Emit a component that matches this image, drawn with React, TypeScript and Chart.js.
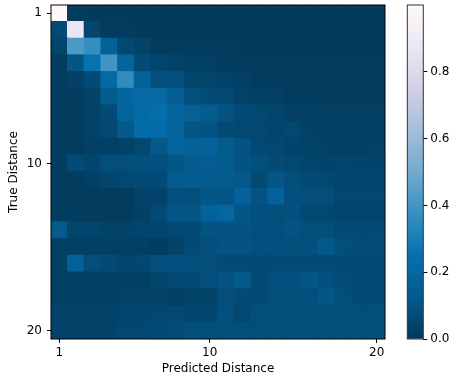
import { useEffect, useRef } from "react";
import { Chart, registerables } from "chart.js";

Chart.register(...registerables);

// ---- data ----
const predictedDistances = [1, 2, 3, 4, 5, 6, 7, 8, 9, 10, 11, 12, 13, 14, 15, 16, 17, 18, 19, 20];
const trueDistances = [1, 2, 3, 4, 5, 6, 7, 8, 9, 10, 11, 12, 13, 14, 15, 16, 17, 18, 19, 20];
const xTickValues = [1, 10, 20];
const yTickValues = [1, 10, 20];
const colorbarTicks = [0, 0.2, 0.4, 0.6, 0.8];

// rows: true distance 1..20, columns: predicted distance 1..20
const matrix: number[][] = [
  [1.0, 0.02, 0.01, 0.01, 0.01, 0.01, 0.01, 0.01, 0.01, 0.01, 0.01, 0.01, 0.01, 0.01, 0.01, 0.01, 0.01, 0.01, 0.01, 0.01],
  [0.07, 0.87, 0.05, 0.02, 0.02, 0.01, 0.01, 0.01, 0.01, 0.01, 0.01, 0.01, 0.01, 0.01, 0.01, 0.01, 0.01, 0.01, 0.01, 0.01],
  [0.05, 0.42, 0.37, 0.17, 0.06, 0.04, 0.02, 0.02, 0.02, 0.02, 0.02, 0.01, 0.01, 0.01, 0.01, 0.01, 0.01, 0.01, 0.01, 0.01],
  [0.02, 0.11, 0.26, 0.40, 0.18, 0.07, 0.05, 0.04, 0.03, 0.03, 0.02, 0.02, 0.02, 0.02, 0.02, 0.02, 0.02, 0.02, 0.02, 0.02],
  [0.02, 0.03, 0.07, 0.21, 0.36, 0.17, 0.09, 0.09, 0.05, 0.05, 0.04, 0.03, 0.02, 0.02, 0.02, 0.02, 0.02, 0.02, 0.02, 0.02],
  [0.02, 0.02, 0.04, 0.13, 0.19, 0.21, 0.21, 0.15, 0.08, 0.07, 0.06, 0.04, 0.03, 0.03, 0.02, 0.02, 0.02, 0.02, 0.02, 0.02],
  [0.02, 0.02, 0.04, 0.07, 0.18, 0.21, 0.24, 0.19, 0.16, 0.13, 0.10, 0.07, 0.06, 0.05, 0.03, 0.03, 0.025, 0.025, 0.025, 0.025],
  [0.02, 0.02, 0.04, 0.06, 0.12, 0.23, 0.22, 0.18, 0.11, 0.10, 0.07, 0.06, 0.06, 0.05, 0.06, 0.035, 0.03, 0.03, 0.03, 0.03],
  [0.02, 0.02, 0.03, 0.03, 0.04, 0.06, 0.12, 0.19, 0.17, 0.17, 0.13, 0.10, 0.06, 0.06, 0.045, 0.04, 0.035, 0.03, 0.03, 0.035],
  [0.02, 0.07, 0.05, 0.08, 0.08, 0.09, 0.09, 0.11, 0.13, 0.15, 0.13, 0.10, 0.09, 0.065, 0.06, 0.05, 0.045, 0.05, 0.045, 0.045],
  [0.02, 0.02, 0.03, 0.05, 0.06, 0.07, 0.07, 0.13, 0.14, 0.13, 0.13, 0.12, 0.065, 0.11, 0.08, 0.07, 0.06, 0.05, 0.05, 0.05],
  [0.02, 0.02, 0.02, 0.02, 0.02, 0.04, 0.04, 0.08, 0.08, 0.11, 0.11, 0.17, 0.10, 0.17, 0.09, 0.08, 0.08, 0.06, 0.06, 0.06],
  [0.02, 0.02, 0.02, 0.02, 0.02, 0.03, 0.07, 0.11, 0.11, 0.17, 0.20, 0.11, 0.09, 0.08, 0.09, 0.06, 0.06, 0.05, 0.05, 0.05],
  [0.13, 0.05, 0.05, 0.04, 0.04, 0.05, 0.05, 0.06, 0.07, 0.10, 0.10, 0.10, 0.09, 0.08, 0.10, 0.085, 0.085, 0.065, 0.065, 0.065],
  [0.03, 0.03, 0.03, 0.03, 0.03, 0.03, 0.02, 0.04, 0.07, 0.09, 0.10, 0.10, 0.09, 0.09, 0.085, 0.09, 0.12, 0.085, 0.075, 0.075],
  [0.03, 0.16, 0.08, 0.07, 0.05, 0.06, 0.08, 0.09, 0.08, 0.08, 0.07, 0.07, 0.065, 0.065, 0.065, 0.065, 0.065, 0.065, 0.065, 0.065],
  [0.03, 0.03, 0.03, 0.03, 0.03, 0.03, 0.05, 0.06, 0.07, 0.08, 0.10, 0.12, 0.07, 0.09, 0.09, 0.11, 0.09, 0.075, 0.065, 0.065],
  [0.03, 0.03, 0.03, 0.03, 0.04, 0.04, 0.04, 0.03, 0.04, 0.045, 0.08, 0.065, 0.065, 0.085, 0.085, 0.085, 0.11, 0.08, 0.065, 0.065],
  [0.04, 0.04, 0.04, 0.04, 0.05, 0.05, 0.06, 0.06, 0.05, 0.05, 0.09, 0.06, 0.085, 0.08, 0.08, 0.08, 0.085, 0.08, 0.08, 0.08],
  [0.04, 0.04, 0.04, 0.04, 0.06, 0.06, 0.07, 0.075, 0.085, 0.08, 0.085, 0.085, 0.08, 0.08, 0.085, 0.085, 0.08, 0.08, 0.08, 0.08],
];

// PuBu_r colormap stops (low -> high)
const PUBU_R = ["#023858", "#045a8d", "#0570b0", "#3690c0", "#74a9cf", "#a6bddb", "#d0d1e6", "#ece7f2", "#fff7fb"];

const FONT = "'DejaVu Sans', sans-serif";
const VMIN = 0;
const VMAX = Math.max(...matrix.map((r) => Math.max(...r)));

function hexToRgb(h: string): number[] {
  return [parseInt(h.slice(1, 3), 16), parseInt(h.slice(3, 5), 16), parseInt(h.slice(5, 7), 16)];
}
const STOPS = PUBU_R.map(hexToRgb);

function cmap(v: number): string {
  let t = (v - VMIN) / (VMAX - VMIN);
  t = Math.max(0, Math.min(1, t));
  const pos = t * (STOPS.length - 1);
  const i = Math.min(STOPS.length - 2, Math.floor(pos));
  const f = pos - i;
  const a = STOPS[i];
  const b = STOPS[i + 1];
  const c = a.map((x, k) => Math.round(x + (b[k] - x) * f));
  return `rgb(${c[0]},${c[1]},${c[2]})`;
}

const framePlugin = {
  id: "frame",
  afterDatasetsDraw(chart: any, _args: any, opts: any) {
    const { ctx, chartArea: a } = chart;
    ctx.save();
    ctx.strokeStyle = opts.color || "#000";
    ctx.lineWidth = opts.width || 1;
    ctx.strokeRect(a.left, a.top, a.right - a.left, a.bottom - a.top);
    ctx.restore();
  },
};

export default function App() {
  const mainRef = useRef<HTMLCanvasElement>(null);
  const cbRef = useRef<HTMLCanvasElement>(null);

  useEffect(() => {
    const cells: { x: number; y: [number, number] }[] = [];
    const colors: string[] = [];
    trueDistances.forEach((t, i) => {
      predictedDistances.forEach((p, j) => {
        cells.push({ x: p, y: [t - 0.5, t + 0.5] });
        colors.push(cmap(matrix[i][j]));
      });
    });

    const tickFont = { family: FONT, size: 12 };

    const main = new Chart(mainRef.current!, {
      type: "bar",
      data: {
        datasets: [
          {
            data: cells as any,
            backgroundColor: colors,
            borderWidth: 0,
            grouped: false,
            barPercentage: 1,
            categoryPercentage: 1,
            inflateAmount: 0.7,
          } as any,
        ],
      },
      options: {
        responsive: false,
        animation: false,
        events: [],
        layout: { padding: { top: 5, right: 68, left: 0, bottom: 0 } },
        plugins: {
          legend: { display: false },
          tooltip: { enabled: false },
          frame: { color: "#000", width: 1 },
        } as any,
        scales: {
          x: {
            type: "linear",
            min: 0.5,
            max: 20.5,
            offset: false,
            afterBuildTicks: (s: any) => {
              s.ticks = xTickValues.map((v) => ({ value: v }));
            },
            afterFit: (s: any) => {
              s.height = 37;
              s.paddingLeft = 0;
              s.paddingRight = 0;
            },
            ticks: { font: tickFont, color: "#000", padding: 2.3, maxRotation: 0, autoSkip: false },
            grid: { offset: false, drawOnChartArea: false, drawTicks: true, tickLength: 4, color: "#000", lineWidth: 1 },
            border: { display: false },
            title: {
              display: true,
              text: "Predicted Distance",
              font: tickFont,
              color: "#000",
              padding: { top: 0, bottom: 0 },
            },
          },
          y: {
            type: "linear",
            reverse: true,
            min: 0.5,
            max: 20.5,
            offset: false,
            afterBuildTicks: (s: any) => {
              s.ticks = yTickValues.map((v) => ({ value: v }));
            },
            afterFit: (s: any) => {
              s.width = 51;
              s.paddingTop = 0;
              s.paddingBottom = 0;
            },
            ticks: { font: tickFont, color: "#000", padding: 5, autoSkip: false },
            grid: { offset: false, drawOnChartArea: false, drawTicks: true, tickLength: 4, color: "#000", lineWidth: 1 },
            border: { display: false },
            title: {
              display: true,
              text: "True Distance",
              font: tickFont,
              color: "#000",
              padding: { top: 6.8, bottom: 0 },
            },
          },
        },
      },
      plugins: [framePlugin],
    });

    const cb = new Chart(cbRef.current!, {
      type: "bar",
      data: {
        labels: [""],
        datasets: [
          {
            data: [[VMIN, VMAX]] as any,
            backgroundColor: (ctx: any) => {
              const chart = ctx.chart;
              const ys = chart.scales.y;
              if (!ys || !chart.chartArea) return PUBU_R[0];
              const y0 = ys.getPixelForValue(VMIN);
              const y1 = ys.getPixelForValue(VMAX);
              const g = chart.ctx.createLinearGradient(0, y0, 0, y1);
              PUBU_R.forEach((c, k) => g.addColorStop(k / (PUBU_R.length - 1), c));
              return g;
            },
            borderWidth: 0,
            barPercentage: 1,
            categoryPercentage: 1,
          } as any,
        ],
      },
      options: {
        responsive: false,
        animation: false,
        events: [],
        layout: { padding: { top: 5, left: 17.3, right: 0, bottom: 37 } },
        plugins: {
          legend: { display: false },
          tooltip: { enabled: false },
          frame: { color: "#333", width: 1 },
        } as any,
        scales: {
          x: { type: "category", display: false },
          y: {
            type: "linear",
            position: "right",
            min: VMIN,
            max: VMAX,
            afterBuildTicks: (s: any) => {
              s.ticks = colorbarTicks.map((v) => ({ value: v }));
            },
            afterFit: (s: any) => {
              s.width = 29.7;
              s.paddingTop = 0;
              s.paddingBottom = 0;
            },
            ticks: {
              font: tickFont,
              color: "#000",
              padding: 3,
              callback: (v: any) => Number(v).toFixed(1),
            },
            grid: { offset: false, drawOnChartArea: false, drawTicks: true, tickLength: 4, color: "#000", lineWidth: 1 },
            border: { display: false },
          },
        },
      },
      plugins: [framePlugin],
    });

    return () => {
      main.destroy();
      cb.destroy();
    };
  }, []);

  return (
    <div style={{ position: "absolute", left: 0, top: 0, width: 453, height: 376, background: "#fff" }}>
      <canvas ref={mainRef} width={453} height={376} style={{ position: "absolute", left: 0, top: 0 }} />
      <canvas ref={cbRef} width={63} height={376} style={{ position: "absolute", left: 390, top: 0 }} />
    </div>
  );
}
